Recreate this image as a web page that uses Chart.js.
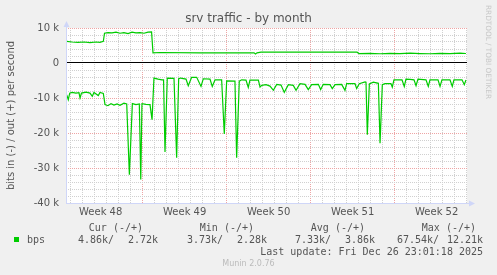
<!DOCTYPE html>
<html>
<head>
<meta charset="utf-8">
<script src="https://cdn.jsdelivr.net/npm/chart.js@4.4.1/dist/chart.umd.min.js"></script>
<style>
  html, body { margin: 0; padding: 0; background: #f0f0f0; }
</style>
</head>
<body>
<canvas id="c" width="497" height="275"></canvas>
<script>
// time axis is in days from the left edge of the graph window
const outDays = [0.06, 0.5, 1.0, 1.5, 2.0, 2.5, 2.83, 3.11, 3.21, 3.5, 3.83, 4.17, 4.5, 4.83, 5.17, 5.5, 5.83, 6.17, 6.5, 6.83, 7.13,
  7.25, 7.83, 11.17, 15.67, 15.79, 15.92, 16.25, 19.5, 24.25, 24.42, 25.33, 26.17, 27.0, 27.83, 28.67, 29.5, 30.33, 31.17, 32.0, 32.83, 33.33];
const outBps = [6200, 6000, 5900, 6000, 5800, 6000, 5900, 6200, 8500, 8700, 8600, 8800, 8500, 8700, 8400, 8800, 8600, 8700, 8500, 8800, 8900,
  2900, 3000, 2900, 2900, 2600, 2900, 3100, 3100, 3100, 2700, 2750, 2650, 2750, 2700, 2800, 2700, 2650, 2750, 2700, 2800, 2720];

const inDays = [0.06, 0.19, 0.31, 0.5, 0.83, 1.08, 1.17, 1.29, 1.67, 2.0, 2.19, 2.33, 2.69, 2.83, 3.11,
  3.25, 3.5, 3.75, 4.0, 4.25, 4.5, 4.83, 5.06, 5.28, 5.53, 5.83, 6.11, 6.23, 6.33, 6.67, 7.0, 7.17,
  7.33, 7.67, 8.0, 8.13, 8.25, 8.44, 9.0, 9.22, 9.39, 9.56, 10.0, 10.19, 10.47, 10.89, 11.25, 11.44, 12.0, 12.19, 12.42,
  12.97, 13.19, 13.39, 14.08, 14.22, 14.44, 14.64, 15.0, 15.19, 15.33, 16.03, 16.17, 16.31,
  16.67, 17.0, 17.28, 17.56, 17.92, 18.19, 18.53, 18.94, 19.17, 19.5, 19.92, 20.19, 20.47, 21.03, 21.22, 21.44,
  22.0, 22.19, 22.42, 22.97, 23.25, 23.39, 24.08, 24.22, 24.44, 24.92, 25.0, 25.11, 25.28, 25.61, 26.03, 26.17,
  26.36, 26.58, 27.08, 27.19, 27.33, 28.0, 28.19, 28.33, 28.67, 29.0, 29.17, 29.33, 30.0, 30.19, 30.33,
  31.0, 31.17, 31.33, 32.0, 32.19, 32.33, 33.0, 33.19, 33.33];
const inBps = [9100, 10500, 8600, 8400, 8600, 8500, 10000, 8600, 8300, 8600, 9500, 8400, 9300, 8400, 8700,
  11900, 12200, 11600, 12000, 11700, 12100, 11500, 11700, 31900, 11600, 11900, 11700, 33300, 11600, 11800, 11900, 16200,
  4300, 4600, 4800, 4800, 25400, 4300, 4400, 27100, 4500, 4300, 4600, 6500, 4100, 4100, 6700, 4500, 4600, 6700, 4800,
  4800, 20300, 5100, 5200, 27100, 5200, 4800, 4900, 7000, 4900, 4900, 6900, 6400,
  6200, 6600, 7800, 6100, 6300, 8400, 6200, 6400, 7800, 5900, 6100, 7600, 6200, 6100, 7600, 6100,
  6200, 7300, 6200, 6100, 7800, 5900, 5900, 7300, 5900, 5400, 5500, 20500, 6000, 5500, 5800, 22900,
  6200, 5900, 5900, 6900, 4800, 4800, 6700, 4600, 4700, 4800, 6500, 4600, 4800, 6700, 4800,
  4800, 6700, 4800, 4800, 6700, 4800, 4800, 6200, 4860];

const weekLabels = ['Week 48', 'Week 49', 'Week 50', 'Week 51', 'Week 52'];
const yMajorValues = [10000, 0, -10000, -20000, -30000, -40000];
const yMajorLabels = ['10 k', '0', '-10 k', '-20 k', '-30 k', '-40 k'];

const legendHead = ['Cur (-/+)', 'Min (-/+)', 'Avg (-/+)', 'Max (-/+)'];
const legendIn = ['4.86k', '3.73k', '7.33k', '67.54k'];
const legendOut = ['2.72k', '2.28k', '3.86k', '12.21k'];
const lastUpdate = 'Last update: Fri Dec 26 23:01:18 2025';

const SPAN = 401 / 12;       // days shown
const FIRST_DAY = 0.39;      // first midnight grid line
const FIRST_WEEK = 6.39;     // first week boundary
const FONT = '#555';
const GRID = 'rgb(208,208,208)';
const MGRID = 'rgb(238,165,165)';
const AXIS = '#cfd6f8';
const GREEN = '#00cc00';

const dayLines = [];
for (let d = FIRST_DAY; d < SPAN; d += 1) dayLines.push(+d.toFixed(2));
const weekCenters = weekLabels.map((_, i) => FIRST_WEEK - 3.5 + i * 7);
const yLines = [];
for (let v = -40000; v <= 10000; v += 2000) yLines.push(v);

const isWeekLine = v => Math.abs(((v - FIRST_WEEK) % 7 + 7) % 7) < 0.01;

const muninDeco = {
  id: 'muninDeco',
  beforeDraw(chart) {
    const { ctx, chartArea: a } = chart;
    ctx.save();
    ctx.fillStyle = '#f0f0f0';
    ctx.fillRect(0, 0, chart.width, chart.height);
    ctx.fillStyle = '#ffffff';
    ctx.fillRect(a.left, a.top, a.right - a.left, a.bottom - a.top);
    ctx.restore();
  },
  afterDraw(chart) {
    const { ctx, chartArea: a } = chart;
    ctx.save();
    // axes with arrows
    const ax = a.left + 0.5, ay = a.bottom + 0.5;
    ctx.strokeStyle = AXIS;
    ctx.fillStyle = AXIS;
    ctx.lineWidth = 1;
    ctx.beginPath();
    ctx.moveTo(ax, ay); ctx.lineTo(ax, a.top - 3);
    ctx.moveTo(a.left, ay); ctx.lineTo(a.right + 3, ay);
    ctx.stroke();
    ctx.beginPath();
    ctx.moveTo(ax, a.top - 7); ctx.lineTo(ax - 3, a.top - 1); ctx.lineTo(ax + 3, a.top - 1); ctx.closePath();
    ctx.fill();
    ctx.beginPath();
    ctx.moveTo(a.right + 8, ay); ctx.lineTo(a.right + 2, ay - 3); ctx.lineTo(a.right + 2, ay + 3); ctx.closePath();
    ctx.fill();

    // watermark
    ctx.fillStyle = '#c8c8c8';
    ctx.font = '7.3px "DejaVu Sans"';
    ctx.textAlign = 'left';
    ctx.textBaseline = 'middle';
    ctx.save();
    ctx.translate(488, 5);
    ctx.rotate(Math.PI / 2);
    ctx.fillText('RRDTOOL / TOBI OETIKER', 0, 0);
    ctx.restore();

    // legend
    ctx.fillStyle = FONT;
    ctx.font = '10px "DejaVu Sans Mono"';
    const headEnd = [143, 254, 365, 476];
    const inStart = [78, 187, 295, 397];
    const outEnd = [158, 267, 375, 483];
    ctx.textAlign = 'right';
    legendHead.forEach((t, i) => ctx.fillText(t, headEnd[i], 228));
    legendOut.forEach((t, i) => ctx.fillText(t, outEnd[i], 240));
    ctx.fillText(lastUpdate, 483, 252);
    ctx.textAlign = 'left';
    legendIn.forEach((t, i) => ctx.fillText(t + '/', inStart[i], 240));
    ctx.fillText('bps', 27, 240);
    ctx.fillStyle = GREEN;
    ctx.fillRect(14, 237, 5, 5);

    ctx.fillStyle = '#bbbbbb';
    ctx.font = '8px "DejaVu Sans"';
    ctx.textAlign = 'center';
    ctx.fillText('Munin 2.0.76', 248.5, 264);
    ctx.restore();
  }
};

const tickFont = { family: 'DejaVu Sans', size: 10 };

new Chart(document.getElementById('c'), {
  type: 'line',
  data: {
    datasets: [
      {
        label: 'in',
        data: inDays.map((d, i) => ({ x: d, y: -inBps[i] })),
        borderColor: GREEN,
        borderWidth: 1.2,
        pointRadius: 0,
        tension: 0,
        fill: false
      },
      {
        label: 'out',
        data: outDays.map((d, i) => ({ x: d, y: outBps[i] })),
        borderColor: GREEN,
        borderWidth: 1.2,
        pointRadius: 0,
        tension: 0,
        fill: false
      }
    ]
  },
  options: {
    responsive: false,
    animation: false,
    layout: { padding: 0 },
    plugins: {
      legend: { display: false },
      tooltip: { enabled: false },
      title: {
        display: true,
        text: 'srv traffic - by month',
        color: FONT,
        font: { family: 'DejaVu Sans', size: 12, weight: 'normal' },
        padding: { top: 12, bottom: 1.6 }
      }
    },
    scales: {
      x: {
        type: 'linear',
        position: 'bottom',
        min: 0,
        max: SPAN,
        afterBuildTicks: s => { s.ticks = dayLines.map(v => ({ value: v })); },
        afterFit: s => { s.height = 0; },
        ticks: { display: false, autoSkip: false },
        grid: { drawTicks: false, color: c => (c.tick && isWeekLine(c.tick.value)) ? MGRID : GRID },
        border: { display: false, dash: [1, 1] }
      },
      xw: {
        type: 'linear',
        position: 'bottom',
        min: 0,
        max: SPAN,
        afterBuildTicks: s => { s.ticks = weekCenters.map(v => ({ value: v })); },
        afterFit: s => { s.height = 72; },
        grid: { display: false, drawTicks: false },
        border: { display: false },
        ticks: {
          autoSkip: false, maxRotation: 0, padding: 3, color: FONT, font: tickFont,
          callback: (v, i) => weekLabels[i]
        }
      },
      y: {
        min: -40000,
        max: 10000,
        afterBuildTicks: s => { s.ticks = yLines.map(v => ({ value: v })); },
        afterFit: s => { s.width = 66; },
        ticks: {
          autoSkip: false, padding: 7, color: FONT, font: tickFont,
          callback: v => { const i = yMajorValues.indexOf(v); return i < 0 ? '' : yMajorLabels[i]; }
        },
        grid: {
          drawTicks: false,
          color: c => {
            const v = c.tick ? c.tick.value : 1;
            if (v === 0) return '#000000';
            return v % 10000 === 0 ? MGRID : GRID;
          }
        },
        border: { display: false, dash: c => (c.tick && c.tick.value === 0) ? [] : [1, 1] },
        title: {
          display: true,
          text: 'bits in (-) / out (+) per second',
          color: FONT,
          font: tickFont,
          padding: { top: 5, bottom: 0 }
        }
      },
      yr: {
        position: 'right',
        display: true,
        afterFit: s => { s.width = 30; },
        ticks: { display: false },
        grid: { display: false },
        border: { display: false }
      }
    }
  },
  plugins: [muninDeco]
});
</script>
</body>
</html>
